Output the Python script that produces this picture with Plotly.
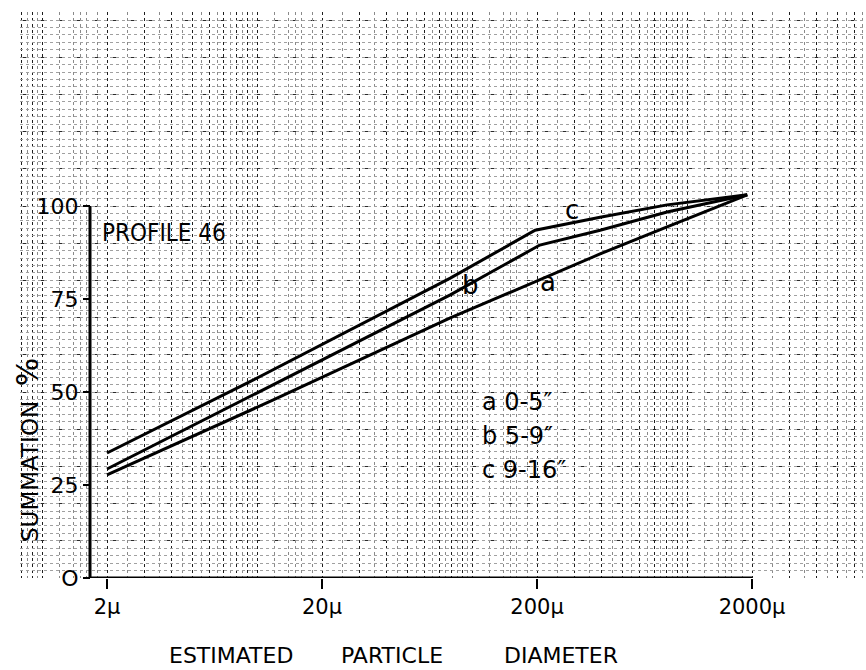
import numpy as np
import plotly.graph_objects as go

# ---------------- data ----------------
diam_a = [2, 11.8, 79, 206, 393, 805, 1900]
pct_a = [27.7, 47.8, 69.9, 80.1, 87.1, 94.4, 103.0]
diam_b = [2, 9.2, 79, 206, 393, 805, 1900]
pct_b = [29.3, 48.7, 76.1, 89.5, 93.5, 98.4, 103.0]
diam_c = [2, 9.2, 79, 196, 393, 805, 1900]
pct_c = [33.6, 52.7, 80.6, 93.5, 97.0, 100.3, 103.0]

x_tick_vals = [2, 20, 200, 2000]
x_tick_text = ["2\u03bc", "20\u03bc", "200\u03bc", "2000\u03bc"]
y_tick_vals = [0, 25, 50, 75, 100]
y_tick_text = ["O", "25", "50", "75", "100"]
legend_lines = ['a 0-5\u2033', 'b 5-9\u2033', 'c 9-16\u2033']
curve_names = ["a", "b", "c"]
x_title_words = ["ESTIMATED", "PARTICLE", "DIAMETER"]

# ---------------- layout geometry ----------------
W, H = 866, 670
ML, MR, MT, MB = 20, 0, 12, 92
x_range = [-0.1036, 3.831]
y_range = [0, 152.15]
FONT = "DejaVu Sans"


def xfrac_px(px):
    return (px - ML) / (W - ML - MR)


def yfrac_px(py):
    return (H - MB - py) / (H - MT - MB)


def xfrac_data(d):
    return (np.log10(d) - x_range[0]) / (x_range[1] - x_range[0])


yaxis_pos = xfrac_px(90)

# graph-paper grid values
paper_major_x = [k * 10 ** n for n in range(-1, 5) for k in range(1, 10)]
paper_fine_x = [(k + 0.5) * 10 ** n for n in range(-1, 4) for k in range(1, 10)] + \
               [f * 10 ** n for n in range(-1, 4) for f in (1.2, 1.4, 1.6, 1.8)]
paper_major_y = list(range(0, 160, 10))
paper_fine_y = list(range(0, 160, 2))

fig = go.Figure()
# empty carriers so the graph-paper overlay axes get drawn
fig.add_trace(go.Scatter(x=[], y=[], xaxis="x3", yaxis="y3", showlegend=False))
fig.add_trace(go.Scatter(x=[], y=[], xaxis="x2", yaxis="y2", showlegend=False))
for d, p in ((diam_a, pct_a), (diam_b, pct_b), (diam_c, pct_c)):
    fig.add_trace(go.Scatter(x=d, y=p, mode="lines",
                             line=dict(color="black", width=3),
                             showlegend=False, hoverinfo="skip"))

grid_common = dict(showticklabels=False, ticks="", showline=False, zeroline=False)

fig.update_layout(
    width=W, height=H,
    margin=dict(l=ML, r=MR, t=MT, b=MB, pad=0),
    paper_bgcolor="white", plot_bgcolor="white",
    showlegend=False,
    font=dict(family=FONT, color="black"),
    xaxis=dict(type="log", range=x_range, tickmode="array",
               tickvals=x_tick_vals, ticktext=x_tick_text,
               ticks="outside", ticklen=10, tickwidth=2, tickcolor="black",
               tickfont=dict(size=21, family=FONT),
               showgrid=False, showline=False, zeroline=False),
    yaxis=dict(range=y_range, tickmode="array", tickvals=y_tick_vals,
               ticktext=y_tick_text, anchor="free", position=yaxis_pos,
               ticks="outside", ticklen=7, tickwidth=2, tickcolor="black",
               tickfont=dict(size=22, family=FONT),
               showgrid=False, showline=False, zeroline=False),
    xaxis2=dict(type="log", range=x_range, overlaying="x", anchor="y2",
                tickmode="array", tickvals=paper_major_x, showgrid=True,
                gridcolor="#1e1e1e", griddash="dot", gridwidth=1, **grid_common),
    yaxis2=dict(range=y_range, overlaying="y", anchor="x2",
                tickmode="array", tickvals=paper_major_y, showgrid=True,
                gridcolor="#2a2a2a", griddash="dash", gridwidth=1, **grid_common),
    xaxis3=dict(type="log", range=x_range, overlaying="x", anchor="y3",
                tickmode="array", tickvals=paper_fine_x, showgrid=True,
                gridcolor="#8a8a8a", griddash="dot", gridwidth=1, **grid_common),
    yaxis3=dict(range=y_range, overlaying="y", anchor="x3",
                tickmode="array", tickvals=paper_fine_y, showgrid=True,
                gridcolor="#a0a0a0", griddash="dot", gridwidth=1, **grid_common),
)

# thick drawn axes
x_end = xfrac_data(x_tick_vals[-1])
fig.add_shape(type="line", xref="paper", yref="y", x0=yaxis_pos, x1=yaxis_pos,
              y0=y_tick_vals[0], y1=y_tick_vals[-1], line=dict(color="black", width=3))
fig.add_shape(type="line", xref="paper", yref="y", x0=yaxis_pos, x1=x_end,
              y0=y_tick_vals[0], y1=y_tick_vals[0], line=dict(color="black", width=3))

# texts
fig.add_annotation(text="PROFILE 46", xref="paper", yref="paper",
                   x=xfrac_px(100), y=yfrac_px(233), xanchor="left", yanchor="middle",
                   showarrow=False,
                   font=dict(size=24, family="DejaVu Sans Condensed, DejaVu Sans"))

fig.add_annotation(text="SUMMATION\u00a0\u00a0<span style='font-size:30px'>%</span>",
                   xref="paper", yref="paper", x=xfrac_px(28), y=yfrac_px(450),
                   xanchor="center", yanchor="middle",
                   textangle=-90, showarrow=False, font=dict(size=23, family=FONT))

for word, cx in zip(x_title_words, (231, 392, 561)):
    fig.add_annotation(text=word, xref="paper", yref="paper",
                       x=xfrac_px(cx), y=yfrac_px(655), xanchor="center",
                       yanchor="middle", showarrow=False,
                       font=dict(size=22, family=FONT))

label_px = {"a": (548, 282), "b": (470, 285), "c": (572, 210)}
for name in curve_names:
    px, py = label_px[name]
    fig.add_annotation(text=name, xref="paper", yref="paper",
                       x=xfrac_px(px), y=yfrac_px(py), showarrow=False,
                       xanchor="center", yanchor="middle",
                       font=dict(size=26, family=FONT))

for i, txt in enumerate(legend_lines):
    fig.add_annotation(text=txt, xref="paper", yref="paper",
                       x=xfrac_px(480), y=yfrac_px(402 + 34 * i),
                       xanchor="left", yanchor="middle", showarrow=False,
                       font=dict(size=24, family=FONT))

fig.write_html("out.html", config={"displayModeBar": False},
               post_script="document.body.style.margin='0px';")
